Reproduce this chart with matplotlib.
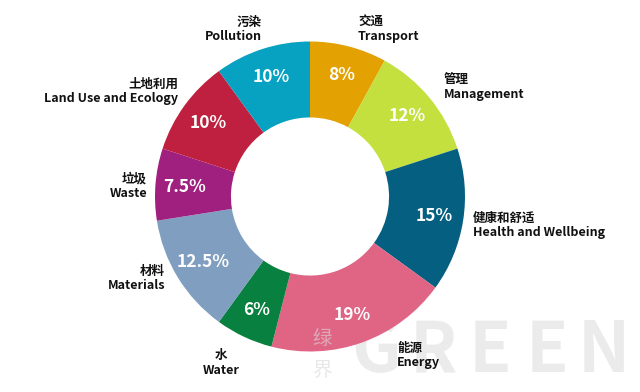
import matplotlib
matplotlib.use("Agg")
import matplotlib.pyplot as plt
import numpy as np

plt.rcParams['font.family'] = ['Noto Sans CJK SC', 'DejaVu Sans']

categories_cn = ["交通", "管理", "健康和舒适", "能源", "水", "材料", "垃圾", "土地利用", "污染"]
categories_en = ["Transport", "Management", "Health and Wellbeing", "Energy", "Water",
                 "Materials", "Waste", "Land Use and Ecology", "Pollution"]
values = [8, 12, 15, 19, 6, 12.5, 7.5, 10, 10]
pct_labels = ["8%", "12%", "15%", "19%", "6%", "12.5%", "7.5%", "10%", "10%"]
colors = ["#E3A102", "#C3E03F", "#055F80", "#E06584", "#08803F",
          "#809FC0", "#A0207F", "#C0203F", "#07A1C1"]

W, H = 640, 392
fig = plt.figure(figsize=(W / 100, H / 100), dpi=100)
cx, cy, R = 310, 392 - 196.5, 155
ax = fig.add_axes([(cx - R) / W, (cy - R) / H, 2 * R / W, 2 * R / H])
ax.axis('off')
ax.set_zorder(1)
ax.patch.set_alpha(0)

wedges, _ = ax.pie(values, colors=colors, startangle=90, counterclock=False,
                   radius=1.0, wedgeprops=dict(width=0.49, linewidth=0))
ax.set_xlim(-1, 1)
ax.set_ylim(-1, 1)

# percent labels at wedge midpoints
for w, lab in zip(wedges, pct_labels):
    ang = np.deg2rad((w.theta1 + w.theta2) / 2)
    r = 0.81
    ax.text(r * np.cos(ang), r * np.sin(ang), lab, ha='center', va='center',
            color='white', fontsize=12.5, fontweight='bold')

# outer category labels: (x px, y px of CN line, alignment)
label_pos = {
    "Transport": (358, 22, 'left'),
    "Management": (444, 80, 'left'),
    "Health and Wellbeing": (473, 218, 'left'),
    "Energy": (397, 348, 'left'),
    "Water": (221, 356, 'center'),
    "Materials": (165, 271, 'right'),
    "Waste": (147, 179, 'right'),
    "Land Use and Ecology": (178, 84, 'right'),
    "Pollution": (262, 22, 'right'),
}
for cn, en in zip(categories_cn, categories_en):
    x, y, ha = label_pos[en]
    fig.text(x / W, 1 - y / H, cn, ha=ha, va='center', fontsize=9,
             fontweight='bold', color='#111111', zorder=6)
    fig.text(x / W, 1 - (y + 14.5) / H, en, ha=ha, va='center', fontsize=9,
             fontweight='bold', color='#111111', zorder=6)

# watermark
fig.text(322 / W, 1 - 338 / H, "绿", ha='center', va='center', fontsize=14,
         color='#d9d9d9', alpha=0.6, zorder=4)
fig.text(322 / W, 1 - 370 / H, "界", ha='center', va='center', fontsize=14,
         color='#d9d9d9', alpha=0.6, zorder=4)
for i, ch in enumerate("GREEN"):
    fig.text((376 + 57 * i) / W, 1 - 352 / H, ch, ha='center', va='center',
             fontsize=50, color='#ebebeb', fontweight='bold', zorder=0)

fig.savefig("out.png", dpi=100, facecolor='white')
